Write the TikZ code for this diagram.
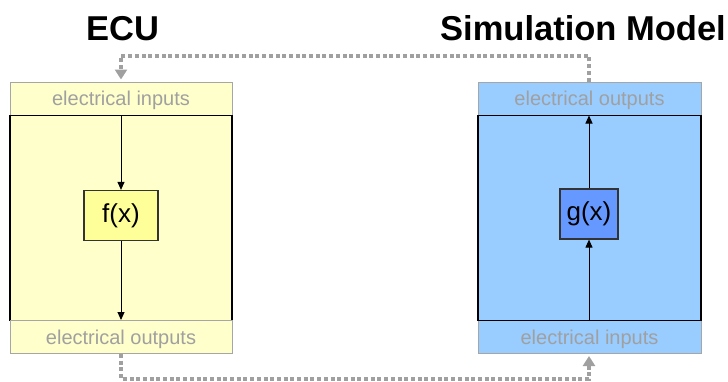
\documentclass[tikz,border=0pt]{standalone}
\usepackage{fontspec}
\setmainfont{Liberation Sans}
\usetikzlibrary{arrows.meta}
\definecolor{ecufill}{HTML}{FFFFCC}
\definecolor{ffill}{HTML}{FFFF99}
\definecolor{simfill}{HTML}{99CCFF}
\definecolor{gfill}{HTML}{6699FF}
\definecolor{lblgray}{HTML}{A0A0A0}
\definecolor{edgegray}{HTML}{A6A6A6}
\definecolor{dotgray}{HTML}{A0A0A0}
\tikzset{
  title/.style={font=\fontsize{34.5}{40}\selectfont\bfseries, anchor=base, inner sep=0},
  port/.style={draw=edgegray, line width=1pt, inner sep=0, minimum width=#1, minimum height=33pt,
    text depth=0pt, text=lblgray, font=\fontsize{20}{22}\selectfont},
  bodybox/.style={draw=black, line width=1.3pt, inner sep=0, minimum width=#1, minimum height=205pt},
  func/.style={draw=black!80, line width=1.2pt, inner sep=0, minimum height=50pt,
    font=\fontsize{26}{30}\selectfont},
  sig/.style={-{Triangle[length=8pt,width=7pt]}, line width=1pt, black},
  dotline/.style={draw=dotgray, line width=3.5pt, dash pattern=on 4pt off 2.7pt},
  dotarrow/.style={dotline, -{Triangle[length=10pt,width=12pt]}, shorten >=2pt}
}
\begin{document}
\begin{tikzpicture}[x=1pt,y=-1pt]
\useasboundingbox (0,0) rectangle (728,381);
% titles
\node[title] (ecutitle) at (122.5,40) {ECU};
\node[title] (simtitle) at (583,40) {Simulation Model};
% ECU panel
\node[port=222pt, fill=ecufill] (ecuin) at (121,98.5) {electrical inputs};
\node[bodybox=222pt, fill=ecufill] (ecubody) at (121,218) {};
\node[port=222pt, fill=ecufill] (ecuout) at (121,337) {electrical outputs};
\node[func, fill=ffill, minimum width=74pt] (f) at (121,215.5) {f(x)};
% Simulation panel
\node[port=223pt, fill=simfill] (simout) at (589.5,98.5) {electrical outputs};
\node[port=223pt, fill=simfill] (simin) at (589.5,337) {electrical inputs};
\node[bodybox=223pt, fill=simfill, minimum height=205pt] (simbody) at (589.5,218) {};
\node[func, fill=gfill, minimum width=58pt] (g) at (589,214) {g(x)};
% internal signals
\draw[sig] (ecuin.south) -- (f.north);
\draw[sig] (f.south) -- (ecuout.north);
\draw[sig] (simin.north -| g.south) -- (g.south);
\draw[sig] (g.north) -- (simout.south -| g.north);
% feedback loops
\coordinate (toprow) at (350,56);
\coordinate (botrow) at (350,379);
\draw[dotarrow] (simout.north -| g.north) -- (g.north |- toprow) -- (ecuin.north |- toprow) -- (ecuin.north);
\draw[dotarrow] (ecuout.south) -- (ecuout.south |- botrow) -- (g.south |- botrow) -- (simin.south -| g.south);
\end{tikzpicture}
\end{document}
